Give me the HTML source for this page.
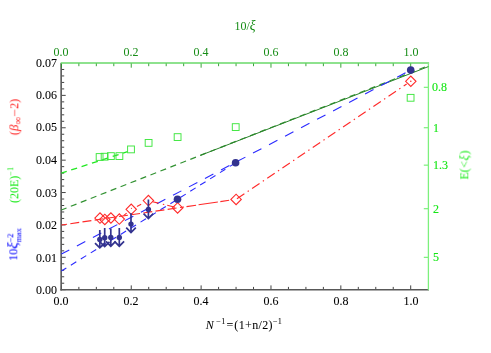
<!DOCTYPE html>
<html><head><meta charset="utf-8"><title>plot</title>
<style>
html,body{margin:0;padding:0;background:#fff;}
body{width:491px;height:353px;position:relative;overflow:hidden;font-family:"Liberation Serif",serif;font-size:12.0px;}
.t{will-change:transform;transform-origin:0 10.69px;position:absolute;white-space:nowrap;line-height:1;font-family:"Liberation Serif",serif;font-size:12.0px;}
.r{position:absolute;width:0;height:0;will-change:transform;}
.r>span{position:absolute;left:0;top:0;white-space:nowrap;line-height:1;display:block;transform-origin:0 0;transform:rotate(-90deg) translate(-50%,-10.69px);}
sup{font-size:8.2px;vertical-align:baseline;position:relative;top:-4.6px;line-height:0;}
sub{font-size:8.2px;vertical-align:baseline;position:relative;top:2.2px;line-height:0;}
.r i{line-height:0;}
.ss{display:inline-block;position:relative;width:15px;height:1px;}
.ss sup{position:absolute;left:0;top:-5.2px;}
.ss sub{position:absolute;left:0;top:2.6px;}
</style></head><body>
<svg width="491" height="353" viewBox="0 0 491 353" style="position:absolute;left:0;top:0">
<line x1="61.40" y1="289.70" x2="65.70" y2="289.70" stroke="#3a3a3a" stroke-width="0.95" />
<line x1="61.40" y1="283.22" x2="64.20" y2="283.22" stroke="#3a3a3a" stroke-width="0.95" />
<line x1="61.40" y1="276.75" x2="64.20" y2="276.75" stroke="#3a3a3a" stroke-width="0.95" />
<line x1="61.40" y1="270.27" x2="64.20" y2="270.27" stroke="#3a3a3a" stroke-width="0.95" />
<line x1="61.40" y1="263.79" x2="64.20" y2="263.79" stroke="#3a3a3a" stroke-width="0.95" />
<line x1="61.40" y1="257.31" x2="65.70" y2="257.31" stroke="#3a3a3a" stroke-width="0.95" />
<line x1="61.40" y1="250.84" x2="64.20" y2="250.84" stroke="#3a3a3a" stroke-width="0.95" />
<line x1="61.40" y1="244.36" x2="64.20" y2="244.36" stroke="#3a3a3a" stroke-width="0.95" />
<line x1="61.40" y1="237.88" x2="64.20" y2="237.88" stroke="#3a3a3a" stroke-width="0.95" />
<line x1="61.40" y1="231.41" x2="64.20" y2="231.41" stroke="#3a3a3a" stroke-width="0.95" />
<line x1="61.40" y1="224.93" x2="65.70" y2="224.93" stroke="#3a3a3a" stroke-width="0.95" />
<line x1="61.40" y1="218.45" x2="64.20" y2="218.45" stroke="#3a3a3a" stroke-width="0.95" />
<line x1="61.40" y1="211.97" x2="64.20" y2="211.97" stroke="#3a3a3a" stroke-width="0.95" />
<line x1="61.40" y1="205.50" x2="64.20" y2="205.50" stroke="#3a3a3a" stroke-width="0.95" />
<line x1="61.40" y1="199.02" x2="64.20" y2="199.02" stroke="#3a3a3a" stroke-width="0.95" />
<line x1="61.40" y1="192.54" x2="65.70" y2="192.54" stroke="#3a3a3a" stroke-width="0.95" />
<line x1="61.40" y1="186.07" x2="64.20" y2="186.07" stroke="#3a3a3a" stroke-width="0.95" />
<line x1="61.40" y1="179.59" x2="64.20" y2="179.59" stroke="#3a3a3a" stroke-width="0.95" />
<line x1="61.40" y1="173.11" x2="64.20" y2="173.11" stroke="#3a3a3a" stroke-width="0.95" />
<line x1="61.40" y1="166.63" x2="64.20" y2="166.63" stroke="#3a3a3a" stroke-width="0.95" />
<line x1="61.40" y1="160.16" x2="65.70" y2="160.16" stroke="#3a3a3a" stroke-width="0.95" />
<line x1="61.40" y1="153.68" x2="64.20" y2="153.68" stroke="#3a3a3a" stroke-width="0.95" />
<line x1="61.40" y1="147.20" x2="64.20" y2="147.20" stroke="#3a3a3a" stroke-width="0.95" />
<line x1="61.40" y1="140.73" x2="64.20" y2="140.73" stroke="#3a3a3a" stroke-width="0.95" />
<line x1="61.40" y1="134.25" x2="64.20" y2="134.25" stroke="#3a3a3a" stroke-width="0.95" />
<line x1="61.40" y1="127.77" x2="65.70" y2="127.77" stroke="#3a3a3a" stroke-width="0.95" />
<line x1="61.40" y1="121.29" x2="64.20" y2="121.29" stroke="#3a3a3a" stroke-width="0.95" />
<line x1="61.40" y1="114.82" x2="64.20" y2="114.82" stroke="#3a3a3a" stroke-width="0.95" />
<line x1="61.40" y1="108.34" x2="64.20" y2="108.34" stroke="#3a3a3a" stroke-width="0.95" />
<line x1="61.40" y1="101.86" x2="64.20" y2="101.86" stroke="#3a3a3a" stroke-width="0.95" />
<line x1="61.40" y1="95.39" x2="65.70" y2="95.39" stroke="#3a3a3a" stroke-width="0.95" />
<line x1="61.40" y1="88.91" x2="64.20" y2="88.91" stroke="#3a3a3a" stroke-width="0.95" />
<line x1="61.40" y1="82.43" x2="64.20" y2="82.43" stroke="#3a3a3a" stroke-width="0.95" />
<line x1="61.40" y1="75.95" x2="64.20" y2="75.95" stroke="#3a3a3a" stroke-width="0.95" />
<line x1="61.40" y1="69.48" x2="64.20" y2="69.48" stroke="#3a3a3a" stroke-width="0.95" />
<line x1="61.40" y1="63.00" x2="65.70" y2="63.00" stroke="#3a3a3a" stroke-width="0.95" />
<line x1="61.40" y1="289.70" x2="61.40" y2="285.40" stroke="#3a3a3a" stroke-width="0.95" />
<line x1="78.86" y1="289.70" x2="78.86" y2="286.90" stroke="#3a3a3a" stroke-width="0.95" />
<line x1="96.33" y1="289.70" x2="96.33" y2="286.90" stroke="#3a3a3a" stroke-width="0.95" />
<line x1="113.80" y1="289.70" x2="113.80" y2="286.90" stroke="#3a3a3a" stroke-width="0.95" />
<line x1="131.26" y1="289.70" x2="131.26" y2="285.40" stroke="#3a3a3a" stroke-width="0.95" />
<line x1="148.72" y1="289.70" x2="148.72" y2="286.90" stroke="#3a3a3a" stroke-width="0.95" />
<line x1="166.19" y1="289.70" x2="166.19" y2="286.90" stroke="#3a3a3a" stroke-width="0.95" />
<line x1="183.66" y1="289.70" x2="183.66" y2="286.90" stroke="#3a3a3a" stroke-width="0.95" />
<line x1="201.12" y1="289.70" x2="201.12" y2="285.40" stroke="#3a3a3a" stroke-width="0.95" />
<line x1="218.59" y1="289.70" x2="218.59" y2="286.90" stroke="#3a3a3a" stroke-width="0.95" />
<line x1="236.05" y1="289.70" x2="236.05" y2="286.90" stroke="#3a3a3a" stroke-width="0.95" />
<line x1="253.52" y1="289.70" x2="253.52" y2="286.90" stroke="#3a3a3a" stroke-width="0.95" />
<line x1="270.98" y1="289.70" x2="270.98" y2="285.40" stroke="#3a3a3a" stroke-width="0.95" />
<line x1="288.44" y1="289.70" x2="288.44" y2="286.90" stroke="#3a3a3a" stroke-width="0.95" />
<line x1="305.91" y1="289.70" x2="305.91" y2="286.90" stroke="#3a3a3a" stroke-width="0.95" />
<line x1="323.38" y1="289.70" x2="323.38" y2="286.90" stroke="#3a3a3a" stroke-width="0.95" />
<line x1="340.84" y1="289.70" x2="340.84" y2="285.40" stroke="#3a3a3a" stroke-width="0.95" />
<line x1="358.31" y1="289.70" x2="358.31" y2="286.90" stroke="#3a3a3a" stroke-width="0.95" />
<line x1="375.77" y1="289.70" x2="375.77" y2="286.90" stroke="#3a3a3a" stroke-width="0.95" />
<line x1="393.24" y1="289.70" x2="393.24" y2="286.90" stroke="#3a3a3a" stroke-width="0.95" />
<line x1="410.70" y1="289.70" x2="410.70" y2="285.40" stroke="#3a3a3a" stroke-width="0.95" />
<line x1="428.40" y1="87.29" x2="423.80" y2="87.29" stroke="#50e850" stroke-width="0.9" />
<line x1="428.40" y1="127.77" x2="423.80" y2="127.77" stroke="#50e850" stroke-width="0.9" />
<line x1="428.40" y1="165.14" x2="423.80" y2="165.14" stroke="#50e850" stroke-width="0.9" />
<line x1="428.40" y1="208.74" x2="423.80" y2="208.74" stroke="#50e850" stroke-width="0.9" />
<line x1="428.40" y1="257.31" x2="423.80" y2="257.31" stroke="#50e850" stroke-width="0.9" />
<line x1="61.15" y1="63.00" x2="61.15" y2="290.50" stroke="#585858" stroke-width="1.6" />
<line x1="60.35" y1="289.75" x2="429.00" y2="289.75" stroke="#585858" stroke-width="1.6" />
<line x1="428.40" y1="63.00" x2="428.40" y2="290.20" stroke="#7cf07c" stroke-width="1.3" />
<line x1="60.70" y1="63.00" x2="429.10" y2="63.00" stroke="#8ee28e" stroke-width="2" />
<line x1="61.40" y1="63.50" x2="61.40" y2="67.70" stroke="#229a22" stroke-width="0.9" />
<line x1="78.86" y1="63.50" x2="78.86" y2="66.20" stroke="#229a22" stroke-width="0.9" />
<line x1="96.33" y1="63.50" x2="96.33" y2="66.20" stroke="#229a22" stroke-width="0.9" />
<line x1="113.80" y1="63.50" x2="113.80" y2="66.20" stroke="#229a22" stroke-width="0.9" />
<line x1="131.26" y1="63.50" x2="131.26" y2="67.70" stroke="#229a22" stroke-width="0.9" />
<line x1="148.72" y1="63.50" x2="148.72" y2="66.20" stroke="#229a22" stroke-width="0.9" />
<line x1="166.19" y1="63.50" x2="166.19" y2="66.20" stroke="#229a22" stroke-width="0.9" />
<line x1="183.66" y1="63.50" x2="183.66" y2="66.20" stroke="#229a22" stroke-width="0.9" />
<line x1="201.12" y1="63.50" x2="201.12" y2="67.70" stroke="#229a22" stroke-width="0.9" />
<line x1="218.59" y1="63.50" x2="218.59" y2="66.20" stroke="#229a22" stroke-width="0.9" />
<line x1="236.05" y1="63.50" x2="236.05" y2="66.20" stroke="#229a22" stroke-width="0.9" />
<line x1="253.52" y1="63.50" x2="253.52" y2="66.20" stroke="#229a22" stroke-width="0.9" />
<line x1="270.98" y1="63.50" x2="270.98" y2="67.70" stroke="#229a22" stroke-width="0.9" />
<line x1="288.44" y1="63.50" x2="288.44" y2="66.20" stroke="#229a22" stroke-width="0.9" />
<line x1="305.91" y1="63.50" x2="305.91" y2="66.20" stroke="#229a22" stroke-width="0.9" />
<line x1="323.38" y1="63.50" x2="323.38" y2="66.20" stroke="#229a22" stroke-width="0.9" />
<line x1="340.84" y1="63.50" x2="340.84" y2="67.70" stroke="#229a22" stroke-width="0.9" />
<line x1="358.31" y1="63.50" x2="358.31" y2="66.20" stroke="#229a22" stroke-width="0.9" />
<line x1="375.77" y1="63.50" x2="375.77" y2="66.20" stroke="#229a22" stroke-width="0.9" />
<line x1="393.24" y1="63.50" x2="393.24" y2="66.20" stroke="#229a22" stroke-width="0.9" />
<line x1="410.70" y1="63.50" x2="410.70" y2="67.70" stroke="#229a22" stroke-width="0.9" />
<line x1="61.40" y1="210.00" x2="428.40" y2="65.70" stroke="#329232" stroke-width="1.2" stroke-dasharray="6.1 4.6" stroke-dashoffset="0.6"/>
<line x1="200.40" y1="155.40" x2="428.40" y2="66.60" stroke="#2b842b" stroke-width="1.0" />
<line x1="61.40" y1="173.10" x2="127.60" y2="151.65" stroke="#22e822" stroke-width="1.3" stroke-dasharray="6.2 4.7" stroke-dashoffset="0.6"/>
<line x1="61.40" y1="254.10" x2="410.50" y2="70.10" stroke="#2a2aff" stroke-width="1.1" stroke-dasharray="9.5 8.6" stroke-dashoffset="0.6"/>
<polyline points="61.40,271.00 177.50,199.30 235.60,162.80" fill="none" stroke="#2a2aff" stroke-width="1.1" stroke-dasharray="6.4 5.3" stroke-dashoffset="0.6"/>
<line x1="61.40" y1="225.00" x2="177.60" y2="207.90" stroke="#ff2a2a" stroke-width="1.1" stroke-dasharray="9 3.3" stroke-dashoffset="3.3"/>
<line x1="177.60" y1="207.90" x2="236.10" y2="199.30" stroke="#ff2a2a" stroke-width="1.1" stroke-dasharray="0 2.4 4.1 2.5 9.7 2.5 19.5 2.5 8.9 100" />
<polyline points="119.30,219.10 131.20,209.30 148.40,200.60 177.60,207.90" fill="none" stroke="#ff2a2a" stroke-width="1.1" stroke-dasharray="0 5.5 4 12.3 4.8 12.5 6 4.5 1.4 3.1 8 100" />
<line x1="236.10" y1="199.30" x2="406.66" y2="84.00" stroke="#ff2a2a" stroke-width="1.1" stroke-dasharray="9 3.95 1.4 3.95" stroke-dashoffset="-1.0"/>
<circle cx="410.8" cy="81.2" r="0.8" fill="#ff2a2a"/>
<circle cx="131.5" cy="208.3" r="0.6" fill="#ff2a2a"/>
<rect x="407.20" y="94.40" width="6.8" height="6.8" fill="none" stroke="#3ee63e" stroke-width="0.95"/>
<rect x="232.30" y="123.70" width="6.8" height="6.8" fill="none" stroke="#3ee63e" stroke-width="0.95"/>
<rect x="174.20" y="133.70" width="6.8" height="6.8" fill="none" stroke="#3ee63e" stroke-width="0.95"/>
<rect x="145.20" y="139.50" width="6.8" height="6.8" fill="none" stroke="#3ee63e" stroke-width="0.95"/>
<rect x="127.60" y="146.00" width="6.8" height="6.8" fill="none" stroke="#3ee63e" stroke-width="0.95"/>
<rect x="116.00" y="152.70" width="6.8" height="6.8" fill="none" stroke="#3ee63e" stroke-width="0.95"/>
<rect x="107.50" y="152.70" width="6.8" height="6.8" fill="none" stroke="#3ee63e" stroke-width="0.95"/>
<rect x="101.20" y="153.30" width="6.8" height="6.8" fill="none" stroke="#3ee63e" stroke-width="0.95"/>
<rect x="96.20" y="153.60" width="6.8" height="6.8" fill="none" stroke="#3ee63e" stroke-width="0.95"/>
<path d="M405.60 81.30L410.80 76.10L416.00 81.30L410.80 86.50Z" fill="none" stroke="#ff2a2a" stroke-width="1.1"/>
<path d="M230.90 199.40L236.10 194.20L241.30 199.40L236.10 204.60Z" fill="none" stroke="#ff2a2a" stroke-width="1.1"/>
<path d="M172.40 207.90L177.60 202.70L182.80 207.90L177.60 213.10Z" fill="none" stroke="#ff2a2a" stroke-width="1.1"/>
<path d="M143.20 200.60L148.40 195.40L153.60 200.60L148.40 205.80Z" fill="none" stroke="#ff2a2a" stroke-width="1.1"/>
<path d="M126.00 209.30L131.20 204.10L136.40 209.30L131.20 214.50Z" fill="none" stroke="#ff2a2a" stroke-width="1.1"/>
<path d="M114.10 219.10L119.30 213.90L124.50 219.10L119.30 224.30Z" fill="none" stroke="#ff2a2a" stroke-width="1.1"/>
<path d="M105.70 218.00L110.90 212.80L116.10 218.00L110.90 223.20Z" fill="none" stroke="#ff2a2a" stroke-width="1.1"/>
<path d="M99.60 219.40L104.80 214.20L110.00 219.40L104.80 224.60Z" fill="none" stroke="#ff2a2a" stroke-width="1.1"/>
<path d="M94.80 218.10L100.00 212.90L105.20 218.10L100.00 223.30Z" fill="none" stroke="#ff2a2a" stroke-width="1.1"/>
<circle cx="410.7" cy="70.1" r="3.8" fill="#33338f"/>
<circle cx="235.6" cy="162.8" r="3.8" fill="#33338f"/>
<circle cx="177.5" cy="199.3" r="3.8" fill="#33338f"/>
<path d="M148.4 199.5L148.4 218.5M143.6 213.7L148.4 218.5L153.20000000000002 213.7" fill="none" stroke="#33338f" stroke-width="1.7" stroke-linejoin="miter"/>
<circle cx="148.4" cy="209.4" r="2.7" fill="#33338f"/>
<path d="M131.0 213.2L131.0 232.5M126.2 227.7L131.0 232.5L135.8 227.7" fill="none" stroke="#33338f" stroke-width="1.7" stroke-linejoin="miter"/>
<circle cx="131.0" cy="224.1" r="2.7" fill="#33338f"/>
<path d="M119.3 227.9L119.3 246.2M114.5 241.39999999999998L119.3 246.2L124.1 241.39999999999998" fill="none" stroke="#33338f" stroke-width="1.7" stroke-linejoin="miter"/>
<circle cx="119.3" cy="237.5" r="2.7" fill="#33338f"/>
<path d="M110.8 228.4L110.8 246.2M106.0 241.39999999999998L110.8 246.2L115.6 241.39999999999998" fill="none" stroke="#33338f" stroke-width="1.7" stroke-linejoin="miter"/>
<circle cx="110.8" cy="237.5" r="2.7" fill="#33338f"/>
<path d="M104.7 227.9L104.7 246.6M99.9 241.79999999999998L104.7 246.6L109.5 241.79999999999998" fill="none" stroke="#33338f" stroke-width="1.7" stroke-linejoin="miter"/>
<circle cx="104.7" cy="237.7" r="2.7" fill="#33338f"/>
<path d="M99.8 230.1L99.8 247.9M95.0 243.1L99.8 247.9L104.6 243.1" fill="none" stroke="#33338f" stroke-width="1.7" stroke-linejoin="miter"/>
<circle cx="99.8" cy="239.4" r="2.7" fill="#33338f"/>
</svg>
<div class="t" style="left:56.9px;top:284.01px;color:#000;-webkit-text-stroke:0.07px #000;transform:translateX(-100%) scaleY(1.07)">0.00</div>
<div class="t" style="left:56.9px;top:251.62px;color:#000;-webkit-text-stroke:0.07px #000;transform:translateX(-100%) scaleY(1.07)">0.01</div>
<div class="t" style="left:56.9px;top:219.24px;color:#000;-webkit-text-stroke:0.07px #000;transform:translateX(-100%) scaleY(1.07)">0.02</div>
<div class="t" style="left:56.9px;top:186.85px;color:#000;-webkit-text-stroke:0.07px #000;transform:translateX(-100%) scaleY(1.07)">0.03</div>
<div class="t" style="left:56.9px;top:153.77px;color:#000;-webkit-text-stroke:0.07px #000;transform:translateX(-100%) scaleY(1.07)">0.04</div>
<div class="t" style="left:56.9px;top:121.38px;color:#000;-webkit-text-stroke:0.07px #000;transform:translateX(-100%) scaleY(1.07)">0.05</div>
<div class="t" style="left:56.9px;top:88.99px;color:#000;-webkit-text-stroke:0.07px #000;transform:translateX(-100%) scaleY(1.07)">0.06</div>
<div class="t" style="left:56.9px;top:56.61px;color:#000;-webkit-text-stroke:0.07px #000;transform:translateX(-100%) scaleY(1.07)">0.07</div>
<div class="t" style="left:61.4px;top:294.61px;color:#000;transform:translateX(-50%) scaleY(1.07);-webkit-text-stroke:0.07px #000;">0.0</div>
<div class="t" style="left:61.4px;top:45.51px;color:#168c16;transform:translateX(-50%) scaleY(1.07);">0.0</div>
<div class="t" style="left:131.26px;top:294.61px;color:#000;transform:translateX(-50%) scaleY(1.07);-webkit-text-stroke:0.07px #000;">0.2</div>
<div class="t" style="left:131.26px;top:45.51px;color:#168c16;transform:translateX(-50%) scaleY(1.07);">0.2</div>
<div class="t" style="left:201.12px;top:294.61px;color:#000;transform:translateX(-50%) scaleY(1.07);-webkit-text-stroke:0.07px #000;">0.4</div>
<div class="t" style="left:201.12px;top:45.51px;color:#168c16;transform:translateX(-50%) scaleY(1.07);">0.4</div>
<div class="t" style="left:270.98px;top:294.61px;color:#000;transform:translateX(-50%) scaleY(1.07);-webkit-text-stroke:0.07px #000;">0.6</div>
<div class="t" style="left:270.98px;top:45.51px;color:#168c16;transform:translateX(-50%) scaleY(1.07);">0.6</div>
<div class="t" style="left:340.84px;top:294.61px;color:#000;transform:translateX(-50%) scaleY(1.07);-webkit-text-stroke:0.07px #000;">0.8</div>
<div class="t" style="left:340.84px;top:45.51px;color:#168c16;transform:translateX(-50%) scaleY(1.07);">0.8</div>
<div class="t" style="left:410.7px;top:294.61px;color:#000;transform:translateX(-50%) scaleY(1.07);-webkit-text-stroke:0.07px #000;">1.0</div>
<div class="t" style="left:410.7px;top:45.51px;color:#168c16;transform:translateX(-50%) scaleY(1.07);">1.0</div>
<div class="t" style="left:432.3px;top:81.40px;color:#14e614;transform:scaleY(1.07);-webkit-text-stroke:0.12px #14e614;">0.8</div>
<div class="t" style="left:432.9px;top:121.88px;color:#14e614;transform:scaleY(1.07);-webkit-text-stroke:0.12px #14e614;">1</div>
<div class="t" style="left:432.9px;top:159.25px;color:#14e614;transform:scaleY(1.07);-webkit-text-stroke:0.12px #14e614;">1.3</div>
<div class="t" style="left:432.9px;top:202.84px;color:#14e614;transform:scaleY(1.07);-webkit-text-stroke:0.12px #14e614;">2</div>
<div class="t" style="left:432.9px;top:251.42px;color:#14e614;transform:scaleY(1.07);-webkit-text-stroke:0.12px #14e614;">5</div>
<div class="t" style="left:244.8px;top:19.11px;color:#168c16;transform:translateX(-50%) scaleY(1.07);">10/<i style="font-size:13.5px">&xi;</i></div>
<div class="t" style="left:243.8px;top:318.51px;color:#000;transform:translateX(-50%) scaleY(1.07);letter-spacing:0.35px;-webkit-text-stroke:0.05px #000;"><i style="margin-right:2.2px">N</i><sup>&minus;1</sup><span style="margin:0 0.8px">=</span>(1+n/2)<sup>&minus;1</sup></div>
<div class="r" style="left:19.2px;top:117.0px;color:#ff1c1c"><span>(<i style="font-size:13px">&beta;</i><sub style="font-size:11px;top:2.6px">&infin;</sub><span style="display:inline-block;transform:scaleX(1.15);margin:0 0.6px">&minus;</span>2)</span></div>
<div class="r" style="left:18.5px;top:185.0px;color:#16ea16"><span>(20E)<sup>&minus;1</sup></span></div>
<div class="r" style="left:18.3px;top:244.2px;color:#1414ff;-webkit-text-stroke:0.1px #1414ff"><span>10<i style="font-size:15px">&xi;</i><span class="ss"><sup>&minus;2</sup><sub>max</sub></span></span></div>
<div class="r" style="left:469.4px;top:164.5px;color:#16ea16"><span>E(<span style="margin:0 0.5px">&lt;</span><i style="font-size:12.5px;margin-right:0.6px">&xi;</i>)</span></div>
</body></html>
